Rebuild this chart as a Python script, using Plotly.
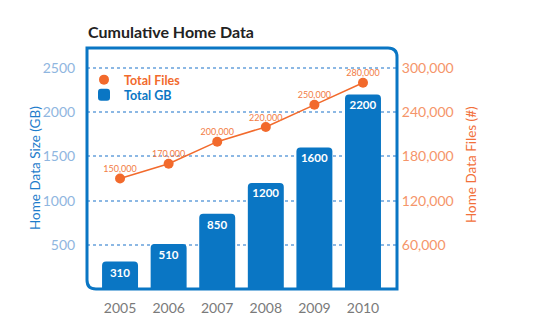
import plotly.graph_objects as go

years = ["2005", "2006", "2007", "2008", "2009", "2010"]
total_gb = [310, 510, 850, 1200, 1600, 2200]
total_files = [150000, 170000, 200000, 220000, 250000, 280000]
left_ticks = [500, 1000, 1500, 2000, 2500]
right_ticks = [60000, 120000, 180000, 240000, 300000]
right_tick_text = ["60,000", "120,000", "180,000", "240,000", "300,000"]

BLUE = "#0a76c4"
ORANGE = "#f26a2c"
FONT = "Lato"

fig = go.Figure()

# bars (legend2)
fig.add_trace(go.Bar(
    x=years, y=total_gb, name="<b><span style='color:%s'>Total GB</span></b>" % BLUE,
    legend="legend2",
    marker=dict(color=BLUE, cornerradius=4, line=dict(width=0)),
    width=0.74,
    text=[str(v) for v in total_gb], textposition="inside", insidetextanchor="end",
    constraintext="none",
    textfont=dict(color="white", size=11.5, family=FONT, weight="bold"),
))

# files line
fig.add_trace(go.Scatter(
    x=years, y=total_files, yaxis="y2", mode="lines", showlegend=False,
    line=dict(color=ORANGE, width=1.5), hoverinfo="skip",
))
# files markers (legend)
fig.add_trace(go.Scatter(
    x=years, y=total_files, yaxis="y2", mode="markers",
    name="<b><span style='color:%s'>Total Files</span></b>" % ORANGE,
    legend="legend",
    marker=dict(color=ORANGE, size=10),
))
# files labels (invisible markers give the text its offset)
fig.add_trace(go.Scatter(
    x=years, y=total_files, yaxis="y2", mode="markers+text", showlegend=False,
    marker=dict(size=5, color="rgba(0,0,0,0)"), hoverinfo="skip",
    text=[f"{v:,}" for v in total_files], textposition="top center",
    textfont=dict(color="#f27c45", size=9, family=FONT),
))

W, H = 555, 335
L, R, T, B = 87, 158, 48, 46
pw, ph = W - L - R, H - T - B
ymax = (ph) / ((289 - 68) / 2500)

rx, ry = 9 / pw, 9 / ph
path = (f"M 0,1 L {1-rx},1 Q 1,1 1,{1-ry} L 1,0 L {rx},0 Q 0,0 0,{ry} Z")

def py(pix):
    return (H - B - pix) / ph

def px(pix):
    return (pix - L) / pw

legend_common = dict(xanchor="left", yanchor="middle", bgcolor="rgba(0,0,0,0)",
                     font=dict(size=12.5, family=FONT), itemwidth=30)

fig.update_layout(
    width=W, height=H,
    margin=dict(l=L, r=R, t=T, b=B),
    paper_bgcolor="white", plot_bgcolor="white",
    font=dict(family=FONT),
    showlegend=True,
    legend=dict(x=px(84), y=py(80), **legend_common),
    legend2=dict(x=px(84), y=py(95), **legend_common),
    xaxis=dict(range=[-0.68, 5.7], showgrid=False, zeroline=False, showline=False,
               ticks="outside", ticklen=6, tickcolor="rgba(0,0,0,0)",
               tickfont=dict(size=14, color="#7a7a7a", family=FONT)),
    yaxis=dict(range=[0, ymax], tickvals=left_ticks, showgrid=True,
               gridcolor="#8cb8e4", griddash="dot", gridwidth=1.5,
               zeroline=False, showline=False,
               ticks="outside", ticklen=8, tickcolor="rgba(0,0,0,0)",
               tickfont=dict(size=14, color="#8fb6e0", family=FONT)),
    yaxis2=dict(range=[0, ymax * 120], overlaying="y", side="right",
                tickvals=right_ticks, ticktext=right_tick_text, showgrid=False,
                zeroline=False, showline=False,
                ticks="outside", ticklen=1, tickcolor="rgba(0,0,0,0)",
                tickfont=dict(size=14, color="#f5956a", family=FONT)),
    shapes=[dict(type="path", xref="paper", yref="paper", path=path,
                 line=dict(color=BLUE, width=3), layer="above")],
    annotations=[
        dict(text="<b>Cumulative Home Data</b>", xref="paper", yref="paper",
             x=px(86), y=py(31), xanchor="left", yanchor="middle",
             showarrow=False, font=dict(size=16, color="#222222", family=FONT)),
        dict(text="Home Data Size (GB)", xref="paper", yref="paper",
             x=px(35), y=py(168), xanchor="center", yanchor="middle",
             textangle=-90, showarrow=False,
             font=dict(size=13.5, color="#1d7ccb", family=FONT)),
        dict(text="Home Data Files (#)", xref="paper", yref="paper",
             x=px(471), y=py(165), xanchor="center", yanchor="middle",
             textangle=-90, showarrow=False,
             font=dict(size=13.5, color="#f2703a", family=FONT)),
    ],
)

fig.write_html("out.html")
